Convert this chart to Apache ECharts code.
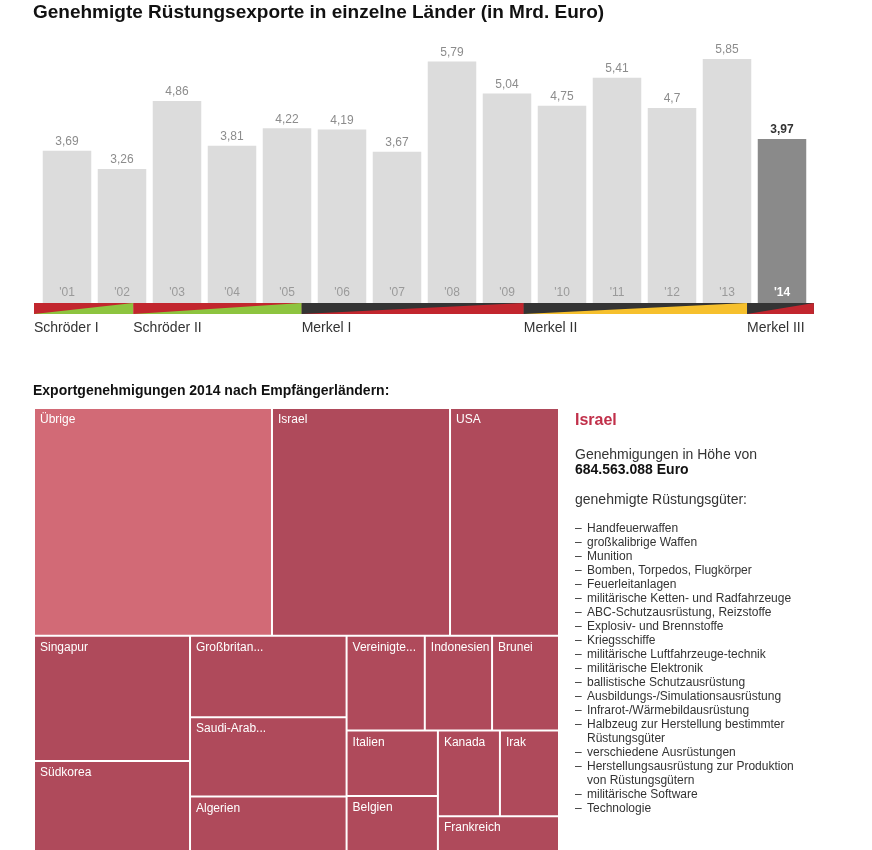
<!DOCTYPE html>
<html>
<head>
<meta charset="utf-8">
<script src="https://cdn.jsdelivr.net/npm/echarts@6/dist/echarts.min.js"></script>
<style>
html,body{margin:0;padding:0;background:#fff;}
#chart{width:872px;height:850px;}
</style>
</head>
<body>
<div id="chart"></div>
<script>
// ---------------- data ----------------
const years = ["'01","'02","'03","'04","'05","'06","'07","'08","'09","'10","'11","'12","'13","'14"];
const exportsBn = [3.69, 3.26, 4.86, 3.81, 4.22, 4.19, 3.67, 5.79, 5.04, 4.75, 5.41, 4.70, 5.85, 3.97];

const cabinets = ['Schröder I', 'Schröder II', 'Merkel I', 'Merkel II', 'Merkel III'];
const cabinetStart = [2000.9, 2002.705, 2005.766, 2009.804, 2013.864];
const cabinetEnd = 2015.08;
const cabinetParties = [['SPD','Grüne'], ['SPD','Grüne'], ['Union','SPD'], ['Union','FDP'], ['Union','SPD']];

// Exportgenehmigungen 2014 (Mio. Euro)
const topCountries = ['Übrige', 'Israel', 'USA'];
const topValues = [915, 684.563088, 419];
const restCountries = ['Singapur', 'Südkorea', 'Großbritannien', 'Saudi-Arabien', 'Algerien',
  'Vereinigte Arabische Emirate', 'Indonesien', 'Brunei', 'Italien', 'Belgien', 'Kanada', 'Irak', 'Frankreich'];
const restValues = [330, 250, 215, 210, 157, 125, 107.5, 107, 101, 92.5, 89.7, 85.4, 81.5];

const detailCountry = 'Israel';
const detailAmountEuro = 684563088;
const detailGoods = [
  'Handfeuerwaffen', 'großkalibrige Waffen', 'Munition', 'Bomben, Torpedos, Flugkörper',
  'Feuerleitanlagen', 'militärische Ketten- und Radfahrzeuge', 'ABC-Schutzausrüstung, Reizstoffe',
  'Explosiv- und Brennstoffe', 'Kriegsschiffe', 'militärische Luftfahrzeuge-technik',
  'militärische Elektronik', 'ballistische Schutzausrüstung', 'Ausbildungs-/Simulationsausrüstung',
  'Infrarot-/Wärmebildausrüstung', 'Halbzeug zur Herstellung bestimmter Rüstungsgüter',
  'verschiedene Ausrüstungen', 'Herstellungsausrüstung zur Produktion von Rüstungsgütern',
  'militärische Software', 'Technologie'
];

// ---------------- styles ----------------
const FONT = "'Liberation Sans', Arial, Helvetica, sans-serif";
const partyColor = { SPD: '#c2262e', 'Grüne': '#8dc43f', Union: '#343434', FDP: '#f6c02d' };
const barColor = '#dcdcdc', barHighlight = '#8a8a8a';
const cellColor = '#af4a5b', otherColor = '#d26a76';

const lastIdx = exportsBn.length - 1;

// treemap geometry (the map runs below the visible page edge)
const tmLeft = 34, tmTop = 408, tmWidth = 525, tmHeight = 448, gap = 2;
const sum = a => a.reduce((s, v) => s + v, 0);
const topH = tmHeight * sum(topValues) / (sum(topValues) + sum(restValues));

const tmLabel = {
  show: true, position: [0, 0], color: '#fff', fontSize: 12, fontFamily: FONT,
  overflow: 'none',
  formatter: p => p.name.length > 10 ? p.name.slice(0, 10) + '...' : p.name
};
function tmSeries(names, values, top, height, ratio) {
  return {
    type: 'treemap', left: tmLeft + gap / 2, top: top + gap / 2, width: tmWidth - gap, height: height - gap,
    squareRatio: ratio, sort: false, roam: false, nodeClick: false,
    breadcrumb: { show: false },
    itemStyle: { gapWidth: gap, borderWidth: 0, borderColor: '#fff' },
    levels: [
      { itemStyle: { gapWidth: gap, borderWidth: 0, borderColor: '#fff' } },
      { itemStyle: { gapWidth: 0, borderWidth: 0, borderColor: '#fff' } }
    ],
    label: tmLabel, upperLabel: { show: false },
    emphasis: { disabled: true },
    data: names.map((n, i) => ({ name: n, value: values[i],
      itemStyle: { color: n === 'Übrige' ? otherColor : cellColor } }))
  };
}

// wrap helper for the goods list
const mctx = document.createElement('canvas').getContext('2d');
function wrap(text, font, maxW) {
  mctx.font = font;
  const words = text.split(' '); const lines = []; let cur = '';
  words.forEach(w => {
    const t = cur ? cur + ' ' + w : w;
    if (mctx.measureText(t).width > maxW && cur) { lines.push(cur); cur = w; } else { cur = t; }
  });
  if (cur) lines.push(cur);
  return lines;
}
const fmtEuro = n => String(n).replace(/\B(?=(\d{3})+(?!\d))/g, '.') + ' Euro';

const graphics = [
  { type: 'text', x: 33, y: 13, style: { text: 'Genehmigte Rüstungsexporte in einzelne Länder (in Mrd. Euro)',
      font: 'bold 19px ' + FONT, fill: '#111', verticalAlign: 'middle' } },
  { type: 'text', x: 33, y: 391, style: { text: 'Exportgenehmigungen 2014 nach Empfängerländern:',
      font: 'bold 14px ' + FONT, fill: '#111', verticalAlign: 'middle' } },
  { type: 'text', x: 575, y: 421, style: { text: detailCountry, font: 'bold 16px ' + FONT, fill: '#c1304a', verticalAlign: 'middle' } },
  { type: 'text', x: 575, y: 455, style: { text: 'Genehmigungen in Höhe von', font: '14px ' + FONT, fill: '#333', verticalAlign: 'middle' } },
  { type: 'text', x: 575, y: 470, style: { text: fmtEuro(detailAmountEuro), font: 'bold 14px ' + FONT, fill: '#111', verticalAlign: 'middle' } },
  { type: 'text', x: 575, y: 500, style: { text: 'genehmigte Rüstungsgüter:', font: '14px ' + FONT, fill: '#333', verticalAlign: 'middle' } }
];
let ly = 529;
const listFont = '12px ' + FONT;
detailGoods.forEach(g => {
  graphics.push({ type: 'text', x: 575, y: ly, style: { text: '–', font: listFont, fill: '#333', verticalAlign: 'middle' } });
  wrap(g, listFont, 215).forEach(line => {
    graphics.push({ type: 'text', x: 587, y: ly, style: { text: line, font: listFont, fill: '#333', verticalAlign: 'middle' } });
    ly += 14;
  });
});

const option = {
  animation: false,
  grid: [
    { left: 39.5, top: 52.7, width: 770, height: 254.8 },
    { left: 39.5, top: 303, width: 770, height: 11 }
  ],
  xAxis: [
    { type: 'category', gridIndex: 0, data: years, z: 5,
      axisLine: { show: false }, axisTick: { show: false },
      axisLabel: { inside: true, margin: 9, color: '#9a9a9a', fontSize: 12, fontFamily: FONT,
        formatter: (v, i) => i === lastIdx ? '{hl|' + v + '}' : v,
        rich: { hl: { color: '#fff', fontWeight: 'bold', fontSize: 12, fontFamily: FONT } } } },
    { type: 'value', gridIndex: 1, min: 2001, max: 2015, show: false }
  ],
  yAxis: [
    { type: 'value', gridIndex: 0, min: 0, max: 6, show: false },
    { type: 'value', gridIndex: 1, min: 0, max: 1, show: false }
  ],
  series: [
    { type: 'bar', xAxisIndex: 0, yAxisIndex: 0, barWidth: 48.5, z: 2,
      label: { show: true, position: 'top', distance: 3, color: '#8c8c8c', fontSize: 12, fontFamily: FONT,
        formatter: p => String(p.value).replace('.', ',') },
      data: exportsBn.map((v, i) => i === lastIdx
        ? { value: v, itemStyle: { color: barHighlight }, label: { fontWeight: 'bold', color: '#333' } }
        : { value: v, itemStyle: { color: barColor } }) },
    { type: 'custom', xAxisIndex: 1, yAxisIndex: 1, clip: false, z: 10,
      data: cabinets.map((n, i) => [cabinetStart[i], i < cabinets.length - 1 ? cabinetStart[i + 1] : cabinetEnd, i]),
      renderItem: (params, api) => {
        const s = api.value(0), e = api.value(1), i = api.value(2);
        const tl = api.coord([s, 1]), br = api.coord([e, 0]);
        const x0 = tl[0], y0 = tl[1], x1 = br[0], y1 = br[1];
        const a = partyColor[cabinetParties[i][0]], b = partyColor[cabinetParties[i][1]];
        return { type: 'group', children: [
          { type: 'rect', shape: { x: x0, y: y0, width: x1 - x0, height: y1 - y0 }, style: { fill: a } },
          { type: 'polygon', shape: { points: [[x1, y0], [x1, y1], [x0, y1]] }, style: { fill: b } },
          { type: 'text', x: x0, y: y1 + 14, style: { text: cabinets[i], fill: '#333', font: '14px ' + FONT, verticalAlign: 'middle', align: 'left' } }
        ] };
      } },
    tmSeries(topCountries, topValues, tmTop, topH, 1.5),
    tmSeries(restCountries, restValues, tmTop + topH, tmHeight - topH, 1.7)
  ],
  graphic: graphics
};

const chart = echarts.init(document.getElementById('chart'));
chart.setOption(option);
</script>
</body>
</html>
